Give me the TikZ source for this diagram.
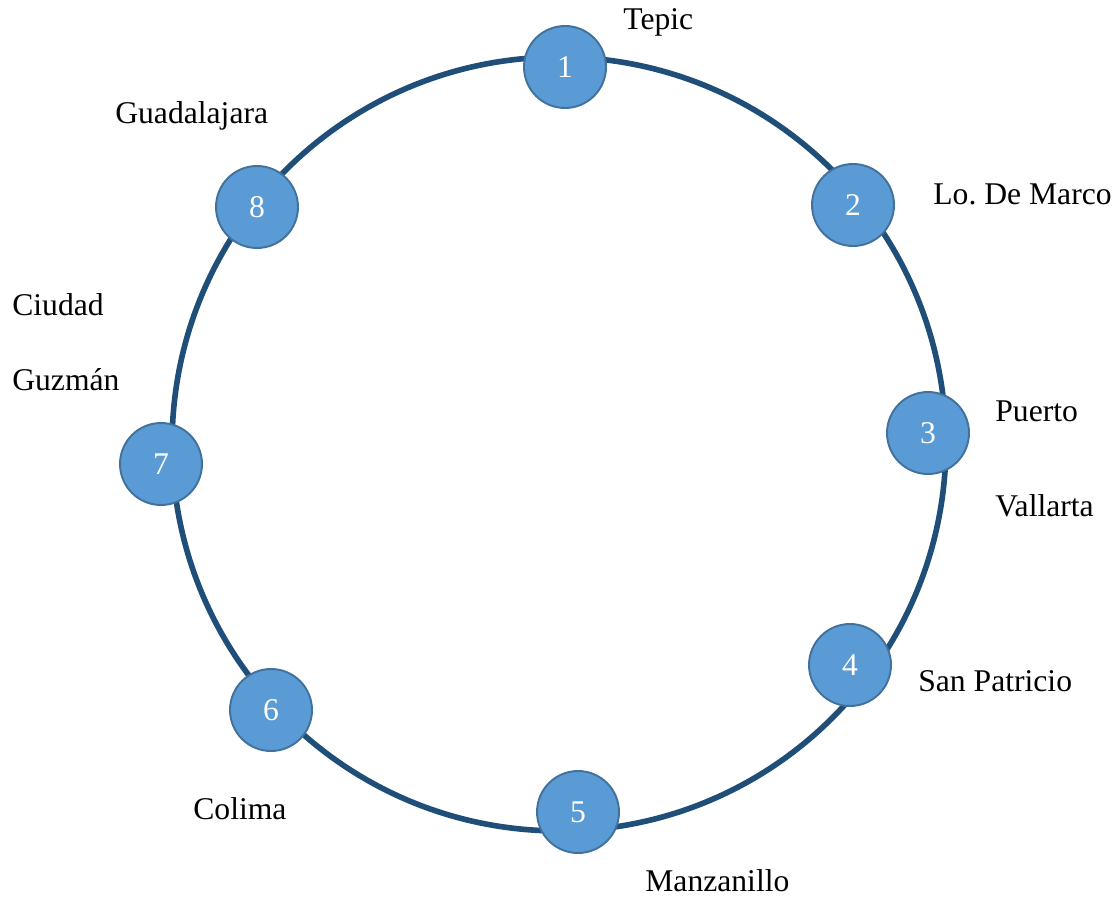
\documentclass[tikz,border=0pt]{standalone}
\usepackage{fontspec}
\setmainfont{Liberation Serif}
\usepackage{xcolor}
\usepackage{tikz}
\usetikzlibrary{positioning}
\definecolor{RouteNavy}{HTML}{1F4E79}
\definecolor{StopBlue}{HTML}{5B9BD5}
\definecolor{StopEdge}{HTML}{41719C}
\frenchspacing

\begin{document}
\begin{tikzpicture}[x=0.02cm, y=-0.02cm,
    stop/.style={circle, fill=StopBlue, draw=StopEdge, line width=1.1pt,
      minimum size=1.64cm, inner sep=0pt, text=white,
      font=\fontsize{18}{22}\selectfont},
    city/.style={anchor=base west, inner sep=0pt,
      font=\fontsize{18}{22}\selectfont}]
      \useasboundingbox (0,0) rectangle (1118,898);
      % Ring
      \draw[RouteNavy, line width=3.2pt] (559,444) circle (7.74cm);
      % Stops
      \node[stop] (stop1) at (565,67) {1};
      \node[stop] (stop2) at (853,205) {2};
      \node[stop] (stop3) at (928,433) {3};
      \node[stop] (stop4) at (850,665) {4};
      \node[stop] (stop5) at (578,812) {5};
      \node[stop] (stop6) at (271,710) {6};
      \node[stop] (stop7) at (161,464) {7};
      \node[stop] (stop8) at (257,207) {8};
      % Labels
      \node[city] (tepic) at (623,30) {Tepic};
      \node[city] (marco) at (933,205) {Lo. De Marco};
      \node[city] (puerto) at (995,421) {Puerto};
      \node[city] (vallarta) at (995,516) {Vallarta};
      \node[city] (patricio) at (918,691) {San Patricio};
      \node[city] (manzanillo) at (645,891) {Manzanillo};
      \node[city] (colima) at (193,819) {Colima};
      \node[city] (ciudad) at (12,316) {Ciudad};
      \node[city] (guzman) at (12,390) {Guzmán};
      \node[city] (guadalajara) at (115,124) {Guadalajara};
    \end{tikzpicture}
\end{document}
